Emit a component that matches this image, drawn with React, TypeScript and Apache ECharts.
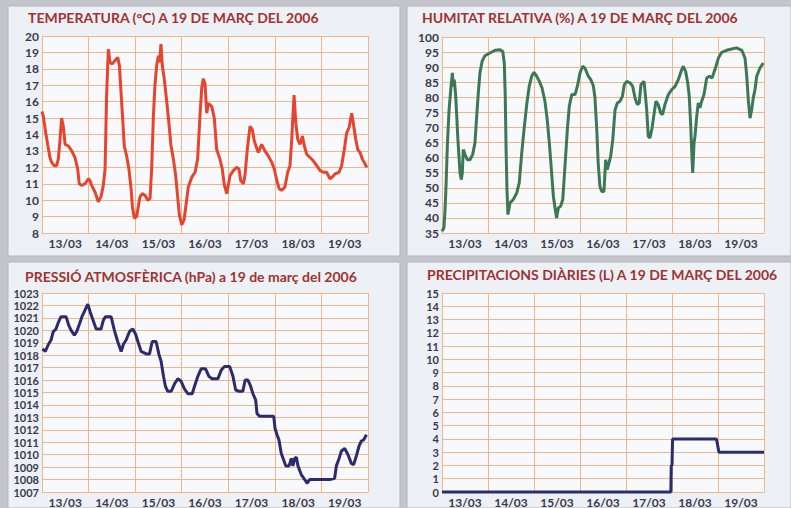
import React, { useEffect, useRef } from "react";
import * as echarts from "echarts";

const days = ["13/03", "14/03", "15/03", "16/03", "17/03", "18/03", "19/03"];

const titles = [
  "TEMPERATURA (°C) A 19 DE MARÇ DEL 2006",
  "HUMITAT RELATIVA (%) A 19 DE MARÇ DEL 2006",
  "PRESSIÓ ATMOSFÈRICA (hPa) a 19 de març del 2006",
  "PRECIPITACIONS DIÀRIES (L) A 19 DE MARÇ DEL 2006",
];

// y ranges: [min, max, interval]
const tempRange = [8, 20, 1];
const humRange = [35, 100, 5];
const presRange = [1007, 1023, 1];
const precRange = [0, 15, 1];

// [hours since 13/03 00:00, value]
const tempData: [number, number][] = [
  [0, 15.4], [0.7, 15.1], [1.9, 14.1], [2.9, 13.4], [4.1, 12.6], [5.0, 12.3], [6.3, 12.1], [7.5, 12.1],
  [8.4, 12.5], [9.3, 13.7], [10.1, 15.0], [11.0, 14.5], [11.9, 13.4], [13.6, 13.3], [15.3, 13.0], [17.0, 12.6],
  [18.4, 11.9], [19.2, 11.0], [20.4, 10.9], [22.2, 11.0], [23.9, 11.3], [24.7, 11.2], [25.6, 10.9], [27.3, 10.5],
  [29.0, 9.9], [30.4, 10.2], [31.6, 10.9], [32.5, 11.9], [33.3, 16.4], [34.2, 19.2], [35.0, 18.4], [36.2, 18.3],
  [37.6, 18.5], [39.0, 18.7], [39.9, 18.2], [40.7, 16.6], [41.6, 14.9], [42.4, 13.3], [43.6, 12.7], [44.8, 11.9],
  [45.9, 10.7], [46.6, 9.6], [47.6, 8.9], [48.8, 9.0], [49.6, 9.6], [50.5, 10.2], [51.7, 10.4], [53.1, 10.3],
  [54.5, 10.0], [55.7, 10.1], [56.5, 11.9], [57.4, 15.1], [58.2, 17.0], [59.1, 18.2], [60.0, 18.8], [60.6, 18.4],
  [61.3, 19.5], [62.0, 18.2], [63.0, 17.4], [64.2, 16.1], [65.4, 14.7], [66.5, 13.3], [67.7, 12.5], [68.9, 11.5],
  [69.9, 10.2], [70.8, 9.1], [72.0, 8.5], [73.2, 8.8], [74.1, 9.6], [75.4, 10.8], [77.2, 11.4], [78.9, 11.7],
  [80.2, 12.5], [81.4, 15.1], [82.3, 16.8], [83.1, 17.4], [84.0, 17.1], [84.9, 15.3], [85.7, 15.9], [87.5, 15.7],
  [88.8, 15.0], [90.0, 13.1], [91.7, 12.5], [92.9, 11.9], [94.0, 10.9], [95.2, 10.4], [96.0, 10.9], [96.9, 11.5],
  [98.6, 11.8], [100.3, 12.0], [101.5, 11.9], [102.4, 11.2], [103.8, 11.0], [104.6, 11.5], [105.8, 13.1], [107.2, 14.5],
  [108.4, 14.3], [109.4, 13.6], [110.6, 13.2], [111.5, 12.9], [113.2, 13.4], [114.9, 13.0], [116.6, 12.7], [118.4, 12.3],
  [119.7, 11.9], [121.0, 11.2], [122.2, 10.7], [123.5, 10.6], [125.2, 10.8], [126.6, 11.7], [127.8, 12.1], [128.7, 13.7],
  [129.2, 14.9], [129.9, 16.4], [130.8, 14.7], [131.8, 13.7], [133.0, 13.4], [134.2, 13.9], [135.2, 13.3], [136.4, 12.8],
  [138.1, 12.6], [139.8, 12.4], [141.6, 12.1], [143.3, 11.8], [145.0, 11.7], [146.7, 11.7], [148.4, 11.3], [149.5, 11.4],
  [151.0, 11.6], [153.1, 11.7], [154.4, 12.1], [155.8, 13.1], [157.0, 14.1], [158.2, 14.4], [159.6, 15.3], [160.4, 14.7],
  [161.7, 13.7], [162.7, 13.1], [163.9, 12.9], [165.1, 12.5], [166.5, 12.2], [167.4, 12.0],
];

const humData: [number, number][] = [
  [0, 35.6], [1.0, 36.7], [1.6, 42.8], [2.1, 50.5], [2.8, 64.3], [3.7, 75.9], [4.5, 82.0], [5.4, 88.1],
  [5.9, 83.6], [6.4, 85.9], [7.1, 80.9], [7.7, 73.7], [8.2, 67.1], [8.9, 59.9], [9.4, 54.9], [10.1, 52.7],
  [10.6, 54.9], [11.1, 62.7], [12.0, 61.0], [13.2, 59.3], [14.6, 59.3], [16.0, 61.0], [17.2, 64.9], [18.1, 73.7],
  [19.0, 82.0], [19.8, 88.1], [20.9, 91.9], [22.4, 93.8], [25.0, 94.7], [27.7, 95.6], [30.3, 95.8], [31.7, 95.2],
  [32.5, 91.4], [33.0, 80.3], [33.4, 63.8], [33.9, 49.4], [34.4, 41.1], [35.5, 45.0], [37.2, 46.1], [39.0, 48.3],
  [40.3, 51.6], [41.6, 61.5], [42.8, 69.3], [44.2, 77.6], [45.5, 83.6], [46.8, 87.0], [48.0, 88.3], [49.4, 87.0],
  [50.8, 85.3], [52.2, 83.1], [53.7, 78.7], [54.9, 72.6], [56.0, 64.9], [57.2, 54.9], [58.1, 47.2], [59.1, 42.8],
  [59.8, 40.0], [60.7, 43.3], [61.9, 43.9], [63.0, 46.1], [63.8, 53.8], [64.5, 60.4], [65.4, 69.3], [66.4, 77.0],
  [67.7, 80.9], [69.4, 80.9], [70.6, 83.6], [72.0, 88.1], [73.4, 90.3], [74.6, 89.7], [76.3, 87.0], [77.5, 86.0],
  [78.9, 84.0], [79.8, 80.0], [80.7, 70.0], [81.5, 58.0], [82.4, 50.5], [83.3, 48.8], [84.5, 48.8], [85.4, 59.3],
  [86.2, 56.0], [87.1, 58.2], [88.0, 60.4], [89.1, 66.0], [90.3, 75.9], [91.5, 78.1], [92.9, 78.7], [94.1, 80.3],
  [95.1, 84.2], [96.4, 85.3], [98.1, 84.8], [99.5, 83.6], [100.7, 79.8], [101.9, 77.6], [102.9, 78.1], [103.8, 84.2],
  [104.7, 84.8], [105.4, 85.3], [106.1, 80.9], [106.8, 75.9], [107.6, 67.1], [108.5, 66.5], [109.6, 69.8], [110.6, 74.3],
  [111.6, 78.7], [112.8, 77.6], [114.1, 74.8], [115.1, 74.3], [116.3, 77.6], [118.1, 80.9], [119.8, 82.5], [121.6, 83.6],
  [123.3, 85.9], [125.1, 89.2], [125.9, 90.3], [127.1, 88.6], [128.2, 84.8], [129.0, 80.3], [129.7, 71.5], [130.4, 60.4],
  [130.8, 54.9], [131.5, 64.9], [132.0, 67.1], [132.9, 73.7], [133.7, 78.1], [134.6, 76.5], [135.5, 78.7], [136.7, 80.9],
  [138.1, 86.4], [139.5, 87.0], [140.9, 86.4], [142.4, 89.2], [144.2, 93.0], [145.9, 94.9], [148.5, 95.6], [151.1, 96.0],
  [153.7, 96.4], [156.4, 95.6], [158.1, 93.0], [159.0, 87.0], [159.8, 79.2], [160.7, 73.1], [161.6, 75.9], [162.4, 79.8],
  [163.3, 82.5], [164.2, 87.0], [165.9, 89.7], [167.6, 91.4],
];

const presData: [number, number][] = [
  [0.3, 1018.5], [1.7, 1018.3], [3.4, 1018.9], [4.6, 1019.2], [5.8, 1019.9], [7.2, 1020.1], [8.6, 1020.7], [9.8, 1021.1],
  [12.4, 1021.1], [13.8, 1020.4], [15.0, 1020.0], [16.7, 1019.6], [17.9, 1019.9], [19.3, 1020.5], [20.6, 1021.1], [22.4, 1021.7],
  [23.6, 1022.1], [24.8, 1021.5], [26.1, 1020.9], [27.9, 1020.1], [30.4, 1020.1], [31.6, 1020.8], [32.7, 1021.1], [35.6, 1021.1],
  [37.3, 1020.0], [39.0, 1019.1], [40.8, 1018.3], [42.0, 1018.9], [43.3, 1019.2], [45.1, 1019.9], [46.8, 1020.1], [48.2, 1019.7],
  [49.4, 1019.1], [51.1, 1018.3], [53.7, 1018.1], [55.4, 1018.1], [56.8, 1019.1], [58.8, 1019.1], [60.2, 1018.1], [61.4, 1017.5],
  [62.6, 1016.3], [63.6, 1015.5], [64.8, 1015.1], [66.6, 1015.1], [68.3, 1015.7], [70.0, 1016.1], [71.7, 1015.9], [73.4, 1015.3],
  [75.2, 1014.9], [77.4, 1014.9], [78.6, 1015.5], [80.3, 1016.3], [82.0, 1016.9], [84.3, 1016.9], [86.0, 1016.3], [87.7, 1016.1],
  [90.6, 1016.1], [92.4, 1016.8], [94.1, 1017.1], [96.7, 1017.1], [98.4, 1016.3], [99.8, 1015.2], [101.5, 1015.1], [103.5, 1015.1],
  [104.7, 1016.0], [106.1, 1016.0], [107.3, 1015.6], [108.7, 1014.9], [110.1, 1014.4], [110.8, 1013.3], [112.1, 1013.1], [114.7, 1013.1],
  [119.4, 1013.1], [120.1, 1012.1], [121.1, 1011.6], [122.1, 1011.2], [123.3, 1010.1], [124.5, 1009.6], [125.6, 1009.1], [127.3, 1009.1],
  [128.5, 1009.7], [129.3, 1009.1], [130.2, 1009.7], [131.1, 1009.8], [131.9, 1009.1], [133.6, 1008.4], [135.4, 1008.0], [136.6, 1007.7],
  [137.9, 1008.0], [140.5, 1008.0], [144.8, 1008.0], [148.3, 1008.0], [150.8, 1008.1], [151.7, 1009.1], [153.1, 1009.7], [154.3, 1010.3],
  [156.0, 1010.5], [157.7, 1010.0], [159.4, 1009.3], [160.6, 1009.2], [162.0, 1009.9], [163.4, 1010.7], [164.6, 1011.1], [165.8, 1011.2],
  [167.2, 1011.6],
];

const precData: [number, number][] = [
  [0, 0], [119.4, 0], [119.6, 2], [120.0, 2], [120.3, 4], [143.2, 4], [144.5, 3], [168, 3],
];

const seriesData = [tempData, humData, presData, precData];
const ranges = [tempRange, humRange, presRange, precRange];
const lineColors = ["#e5452f", "#3d7856", "#2c2c6c", "#2c2c6c"];
const yFontSizes = [12, 12, 11, 11];

const grids = [
  { left: 42, top: 36, width: 326, height: 197 },
  { left: 442, top: 37, width: 322, height: 196 },
  { left: 42, top: 293, width: 326, height: 200 },
  { left: 442, top: 293, width: 322, height: 199 },
];
const titlePos = [
  { left: 28, top: 10 },
  { left: 422, top: 10 },
  { left: 25, top: 269 },
  { left: 427, top: 267 },
];

const gridColor = "#f1b68a";
const labelColor = "#3a3a4c";
const titleColor = "#a0332f";
const labelFont = { color: labelColor, fontFamily: "Lato", fontWeight: "bold" as const, fontSize: 12 };

export default function App() {
  const ref = useRef<HTMLDivElement>(null);
  useEffect(() => {
    if (!ref.current) return;
    const chart = echarts.init(ref.current, null, { renderer: "svg" });
    const xAxis: any[] = [];
    const yAxis: any[] = [];
    const series: any[] = [];
    grids.forEach((g, i) => {
      xAxis.push({
        type: "value", gridIndex: i, min: 0, max: 168, interval: 24,
        axisLabel: { show: false }, axisTick: { show: false },
        axisLine: { show: true, lineStyle: { color: gridColor, width: 1 } },
        splitLine: { show: true, lineStyle: { color: gridColor, width: 1 } },
      });
      xAxis.push({
        type: "category", gridIndex: i, data: days, boundaryGap: true, position: "bottom",
        axisLine: { show: false }, axisTick: { show: false }, splitLine: { show: false },
        axisLabel: { ...labelFont, margin: 4, interval: 0 },
      });
      const r = ranges[i];
      yAxis.push({
        type: "value", gridIndex: i, min: r[0], max: r[1], interval: r[2],
        axisLine: { show: true, lineStyle: { color: gridColor, width: 1 } },
        axisTick: { show: false },
        splitLine: { show: true, lineStyle: { color: gridColor, width: 1 } },
        axisLabel: {
          ...labelFont, fontSize: yFontSizes[i], lineHeight: 11, margin: 3,
          formatter: (v: number) => String(v),
        },
      });
      series.push({
        type: "line", xAxisIndex: 2 * i, yAxisIndex: i, data: seriesData[i],
        symbol: "none", showSymbol: false, clip: false,
        lineStyle: { color: lineColors[i], width: 3 },
      });
    });
    const panels = [
      [8, 6, 392, 250],
      [407, 6, 384, 250],
      [8, 262, 392, 246],
      [407, 262, 384, 246],
    ];
    chart.setOption({
      animation: false,
      backgroundColor: "#c4c5cb",
      graphic: panels.map((p) => ({
        type: "rect", z: -10, silent: true,
        shape: { x: p[0], y: p[1], width: p[2], height: p[3] },
        style: { fill: "#edf0f5", stroke: "#b4b5bc", lineWidth: 1 },
      })),
      title: titles.map((t, i) => ({
        text: t, left: titlePos[i].left, top: titlePos[i].top, padding: 0,
        textStyle: { color: titleColor, fontFamily: "Lato", fontWeight: "bold", fontSize: 14 },
      })),
      grid: grids.map((g) => ({ ...g, show: true, backgroundColor: "#f7f9fc", borderWidth: 0, containLabel: false })),
      xAxis, yAxis, series,
    });
    return () => chart.dispose();
  }, []);
  return <div ref={ref} style={{ position: "absolute", left: 0, top: 0, width: 791, height: 508 }} />;
}
